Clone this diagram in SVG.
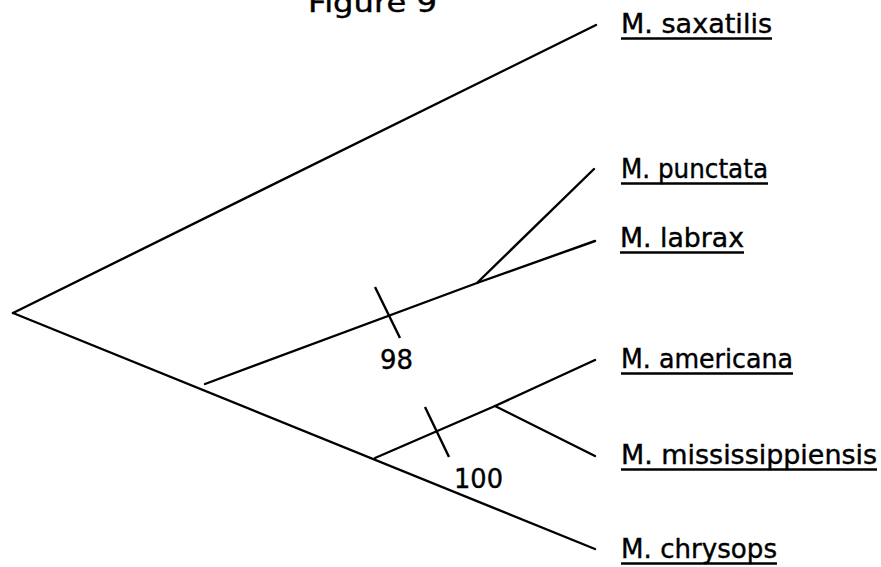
<svg xmlns="http://www.w3.org/2000/svg" width="881" height="567" viewBox="0 0 881 567">
  <style>
    .edge { stroke: #000; stroke-width: 2.4; fill: none; stroke-linecap: round; }
    .tick { stroke: #000; stroke-width: 2.4; fill: none; }
    .lbl { font-family: "DejaVu Sans", "Liberation Sans", sans-serif; font-size: 26px; fill: #000; stroke: #000; stroke-width: 0.4; }
    .ul { stroke: #000; stroke-width: 2.4; }
  </style>
  <rect width="881" height="567" fill="#fff"/>

  <g id="title">
    <text class="lbl" x="308" y="12" textLength="129" lengthAdjust="spacingAndGlyphs">Figure 9</text>
  </g>

  <!-- branches of the tree -->
  <g id="connectors">
    <line class="edge" x1="13" y1="313" x2="596" y2="25"/>
    <line class="edge" x1="13" y1="313" x2="595" y2="549"/>
    <polyline class="edge" points="205,384 477,283 595,241"/>
    <line class="edge" x1="477" y1="283" x2="594" y2="169"/>
    <polyline class="edge" points="375,458 495,406 595,360"/>
    <line class="edge" x1="495" y1="406" x2="595" y2="456"/>
    <!-- bootstrap marks -->
    <line class="tick" x1="375" y1="287" x2="400" y2="338"/>
    <line class="tick" x1="425" y1="407" x2="449" y2="457"/>
  </g>

  <g id="support-98">
    <text class="lbl" x="380" y="369" textLength="33" lengthAdjust="spacingAndGlyphs">98</text>
  </g>
  <g id="support-100">
    <text class="lbl" x="454" y="488" textLength="49" lengthAdjust="spacingAndGlyphs">100</text>
  </g>

  <g id="m-saxatilis">
    <text class="lbl" x="621" y="33" textLength="151" lengthAdjust="spacingAndGlyphs">M. saxatilis</text>
    <line class="ul" x1="621" y1="38.5" x2="772" y2="38.5"/>
  </g>
  <g id="m-punctata">
    <text class="lbl" x="621" y="178" textLength="147" lengthAdjust="spacingAndGlyphs">M. punctata</text>
    <line class="ul" x1="621" y1="183.5" x2="768" y2="183.5"/>
  </g>
  <g id="m-labrax">
    <text class="lbl" x="620" y="247" textLength="124" lengthAdjust="spacingAndGlyphs">M. labrax</text>
    <line class="ul" x1="620" y1="252.5" x2="744" y2="252.5"/>
  </g>
  <g id="m-americana">
    <text class="lbl" x="621" y="368" textLength="172" lengthAdjust="spacingAndGlyphs">M. americana</text>
    <line class="ul" x1="621" y1="373.5" x2="793" y2="373.5"/>
  </g>
  <g id="m-mississippiensis">
    <text class="lbl" x="621" y="464" textLength="256" lengthAdjust="spacingAndGlyphs">M. mississippiensis</text>
    <line class="ul" x1="621" y1="469.5" x2="877" y2="469.5"/>
  </g>
  <g id="m-chrysops">
    <text class="lbl" x="621" y="558" textLength="156" lengthAdjust="spacingAndGlyphs">M. chrysops</text>
    <line class="ul" x1="621" y1="563.5" x2="777" y2="563.5"/>
  </g>
</svg>
